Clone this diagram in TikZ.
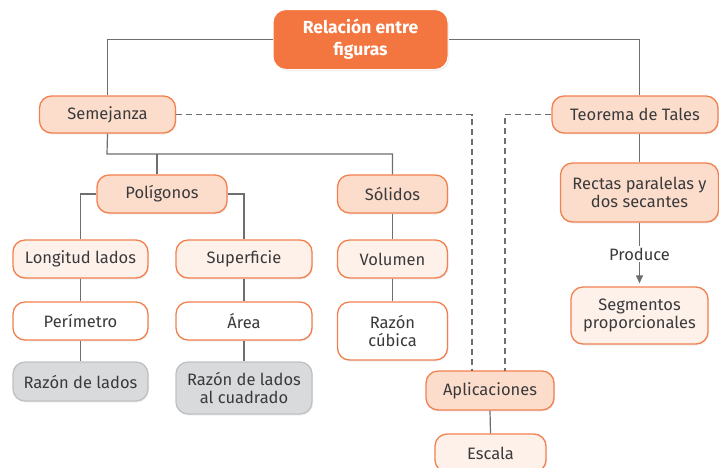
\documentclass[tikz,border=0pt]{standalone}
\usepackage{fontspec}
\setmainfont{Fira Sans}
\usetikzlibrary{arrows.meta,shadows}
\definecolor{rootor}{HTML}{F37640}
\definecolor{bord}{HTML}{F2804F}
\definecolor{midf}{HTML}{FCDDCB}
\definecolor{lightf}{HTML}{FEF1EA}
\definecolor{grayf}{HTML}{D9DADC}
\definecolor{grayb}{HTML}{BFC0C2}
\definecolor{linec}{HTML}{6D6E70}
\definecolor{txt}{HTML}{3A3A3C}
\begin{document}
\begin{tikzpicture}[x=1pt,y=-1pt,
  base/.style={rounded corners=12pt, draw=bord, line width=1.3pt, inner sep=0pt,
    align=center, text=txt, font=\fontsize{16.5}{17.5}\selectfont,
    drop shadow={opacity=0.12, shadow xshift=1pt, shadow yshift=-1.5pt}},
  midbox/.style={base, fill=midf},
  lightbox/.style={base, fill=lightf},
  whitebox/.style={base, fill=white},
  graybox/.style={base, fill=grayf, draw=grayb},
  rootbox/.style={rounded corners=13pt, fill=rootor, draw=white, line width=1pt, inner sep=0pt,
    align=center, text=white, font=\fontsize{17.5}{22}\selectfont\bfseries,
    drop shadow={opacity=0.15, shadow xshift=1pt, shadow yshift=-1.5pt}},
  conn/.style={draw=linec, line width=1.2pt},
  dconn/.style={draw=linec, line width=1.2pt, dash pattern=on 6pt off 4pt},
]
\useasboundingbox (0,0) rectangle (719,467);
% nodes
\node[rootbox, minimum width=175pt, minimum height=60pt] (root) at (360.5,39.5) {Relación entre\\figuras};
\node[midbox, minimum width=136pt, minimum height=37pt] (sem) at (107.5,114.5) {Semejanza};
\node[midbox, minimum width=166pt, minimum height=37pt] (teo) at (635,114.5) {Teorema de Tales};
\node[midbox, minimum width=130pt, minimum height=38pt] (pol) at (162,194) {Polígonos};
\node[midbox, minimum width=110pt, minimum height=38pt] (sol) at (392.5,194) {Sólidos};
\node[lightbox, minimum width=135pt, minimum height=38pt] (lon) at (80.5,259) {Longitud lados};
\node[lightbox, minimum width=136pt, minimum height=38pt] (sup) at (244,259) {Superficie};
\node[lightbox, minimum width=110pt, minimum height=38pt] (vol) at (392.5,259) {Volumen};
\node[whitebox, minimum width=135pt, minimum height=38pt] (per) at (80.5,321) {Perímetro};
\node[whitebox, minimum width=136pt, minimum height=38pt] (are) at (244,321) {Área};
\node[whitebox, minimum width=110pt, minimum height=58pt] (cub) at (392.5,331) {Razón\\cúbica};
\node[graybox, minimum width=135pt, minimum height=39pt] (rl) at (80.5,381.5) {Razón de lados};
\node[graybox, minimum width=136pt, minimum height=52pt] (rc) at (244,388) {Razón de lados\\al cuadrado};
\node[midbox, minimum width=128pt, minimum height=39pt] (apl) at (490,390.5) {Aplicaciones};
\node[lightbox, minimum width=111pt, minimum height=38pt] (esc) at (490.5,453) {Escala};
\node[midbox, minimum width=158pt, minimum height=59pt] (rec) at (639.5,192.5) {Rectas paralelas y\\dos secantes};
\node[lightbox, minimum width=137pt, minimum height=57pt] (seg) at (639.5,315.5) {Segmentos\\proporcionales};
\node[inner sep=1.5pt, text=txt, font=\fontsize{16.5}{17.5}\selectfont] (prod) at (639.5,254) {Produce};
% coordinates
\coordinate (sj) at (107,154);
\coordinate (pj) at (157,154);
\coordinate (d1) at (472,371);
\coordinate (d2) at (505,371);
% connectors
\draw[conn] (root.west) -| (sem.north);
\draw[conn] (root.east) -| (teo.north -| rec.north);
\draw[conn] (teo.south -| rec.north) -- (rec.north);
\draw[conn] (sem.south) -- (sj) -| (sol.north);
\draw[conn] (pj) -- (pj |- pol.north);
\draw[conn] (pol.west) -| (lon.north);
\draw[conn] (pol.east) -| (sup.north);
\draw[conn] (lon.south) -- (per.north);
\draw[conn] (per.south) -- (rl.north);
\draw[conn] (sup.south) -- (are.north);
\draw[conn] (are.south) -- (rc.north);
\draw[conn] (sol.south) -- (vol.north);
\draw[conn] (vol.south) -- (cub.north);
\draw[conn] (apl.south) -- (esc.north);
\draw[conn] (rec.south) -- (prod.north);
\draw[conn, -{Triangle[width=7pt,length=8pt]}, shorten >=3pt] (prod.south) -- (seg.north);
\draw[dconn] (sem.east) -| (d1);
\draw[dconn] (teo.west) -| (d2);
\end{tikzpicture}
\end{document}
